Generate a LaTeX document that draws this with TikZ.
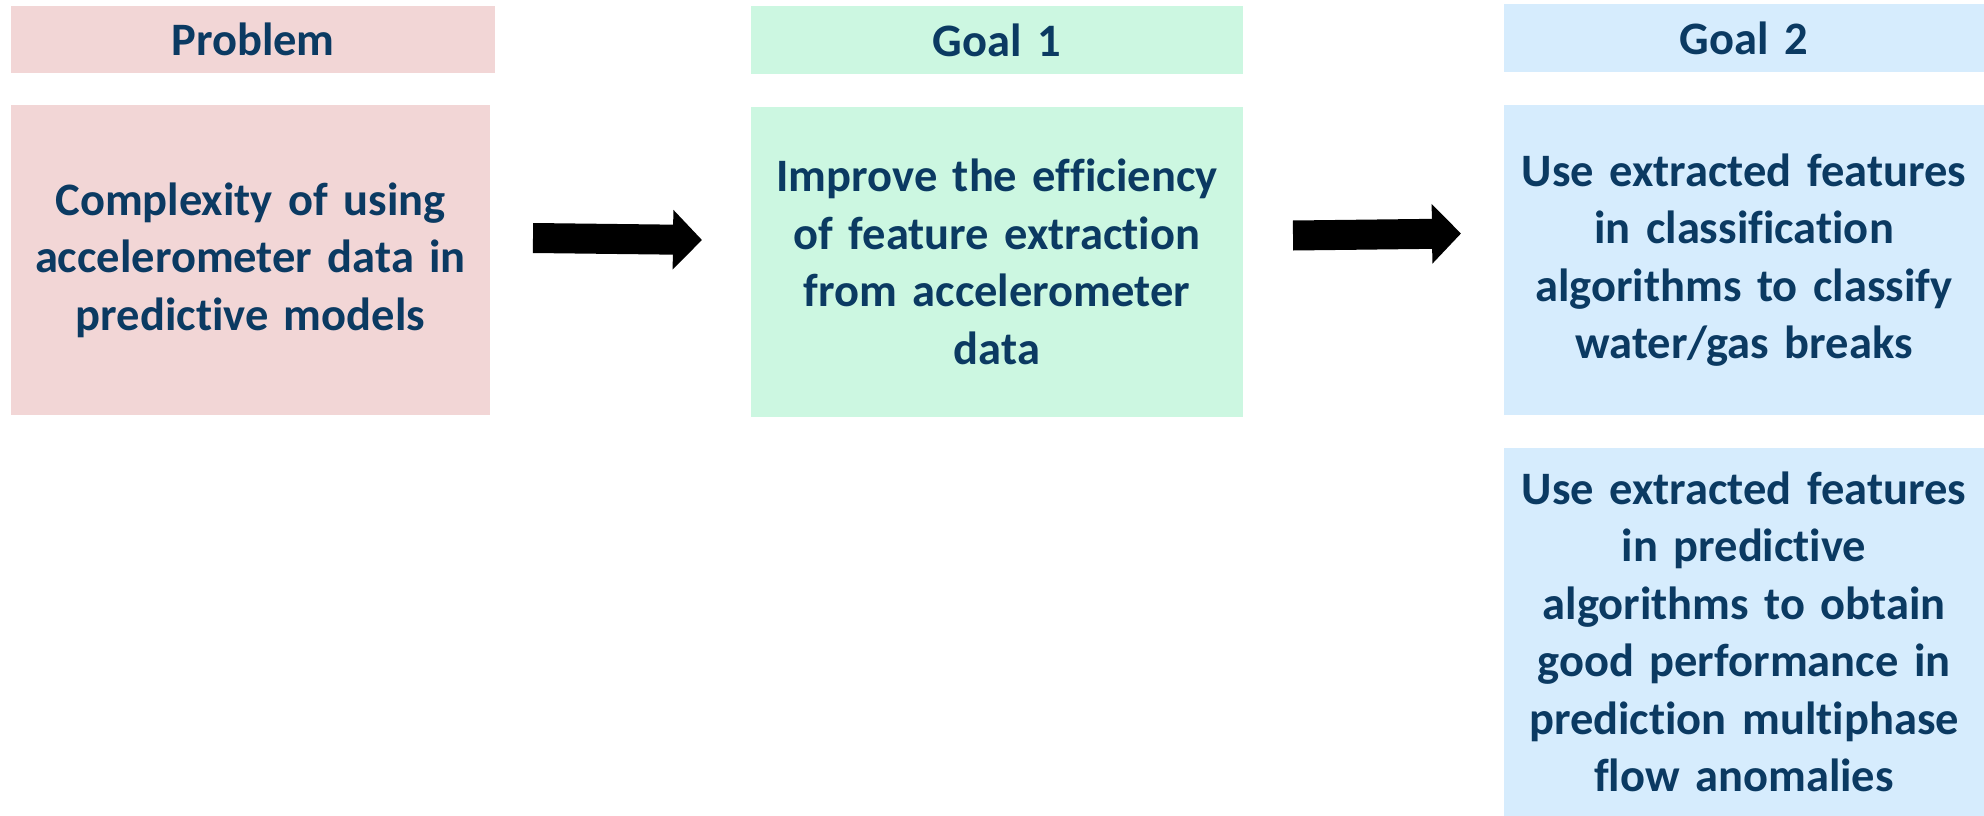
\documentclass[tikz,border=0pt]{standalone}
\usepackage{fontspec}
\setmainfont{Carlito}[Ligatures=NoCommon]
\usetikzlibrary{arrows.meta,positioning}
\definecolor{ink}{HTML}{0B3A62}
\definecolor{probfill}{HTML}{F2D6D6}
\definecolor{goalonefill}{HTML}{CCF7E1}
\definecolor{goaltwofill}{HTML}{D6ECFD}
\tikzset{
  card/.style={anchor=north west, inner sep=0pt, outer sep=0pt,
    align=center, text=ink,
    font=\bfseries\fontsize{46.5}{57.5}\selectfont},
  blockarrow/.style={line width=30pt, draw=black,
    -{Triangle[length=29pt,width=58pt]}}
}
\begin{document}
\begin{tikzpicture}[x=1pt,y=-1pt]
\useasboundingbox (0,0) rectangle (1984,816);
% headers
\node[card, fill=probfill, minimum width=484pt, minimum height=67pt, text width=484pt]
  (probh) at (11,6) {Problem};
\node[card, fill=goalonefill, minimum width=492pt, minimum height=68pt, text width=492pt]
  (g1h) at (751,6) {Goal 1};
\node[card, fill=goaltwofill, minimum width=480pt, minimum height=68pt, text width=480pt]
  (g2h) at (1504,4) {Goal 2};
% content boxes
\node[card, fill=probfill, minimum width=479pt, minimum height=310pt, text width=479pt]
  (prob) at (11,105) {Complexity of using\\accelerometer data in\\predictive models};
\node[card, fill=goalonefill, minimum width=492pt, minimum height=310pt, text width=492pt]
  (g1) at (751,107) {Improve the efficiency\\of feature extraction\\from accelerometer\\data};
\node[card, fill=goaltwofill, minimum width=480pt, minimum height=310pt, text width=480pt]
  (g2a) at (1504,105) {Use extracted features\\in classification\\algorithms to classify\\water/gas breaks};
\node[card, fill=goaltwofill, minimum width=480pt, minimum height=368pt, text width=480pt]
  (g2b) at (1504,448) {Use extracted features\\in predictive\\algorithms to obtain\\good performance in\\prediction multiphase\\flow anomalies};
% arrows between the stages
\draw[blockarrow] ([xshift=43pt,yshift=22pt]prob.east) -- ([xshift=-49pt,yshift=22pt]g1.west);
\draw[blockarrow] ([xshift=50pt,yshift=26.5pt]g1.east) -- ([xshift=-43pt,yshift=26.5pt]g2a.west);
\end{tikzpicture}
\end{document}
